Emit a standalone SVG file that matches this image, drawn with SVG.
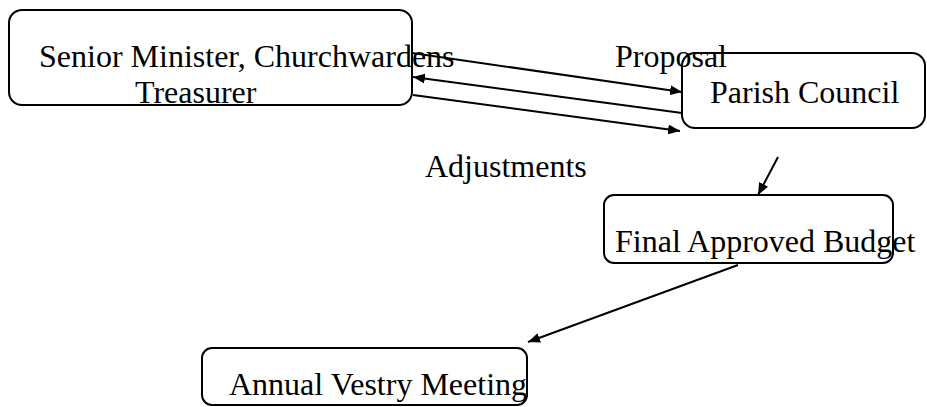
<svg xmlns="http://www.w3.org/2000/svg" width="927" height="407" viewBox="0 0 927 407">
<style>
.box{fill:none;stroke:#000;stroke-width:2}
.t{font-family:"Liberation Serif","Times New Roman",serif;font-size:32px;fill:#000}
.c{stroke:#000;stroke-width:2;fill:none}
</style>
<defs>
<marker id="ah" viewBox="0 0 10 10" refX="10" refY="5" markerWidth="6" markerHeight="5" orient="auto" markerUnits="strokeWidth" preserveAspectRatio="none">
<path d="M0,0 L10,5 L0,10 z" fill="#000"/>
</marker>
</defs>
<rect width="927" height="407" fill="#fff"/>
<g id="connectors">
<line class="c" x1="412" y1="53" x2="682" y2="92" marker-end="url(#ah)"/>
<line class="c" x1="682" y1="113" x2="413" y2="77" marker-end="url(#ah)"/>
<line class="c" x1="413" y1="95" x2="680" y2="131" marker-end="url(#ah)"/>
<line class="c" x1="778" y1="157" x2="758" y2="195" marker-end="url(#ah)"/>
<line class="c" x1="738" y1="265" x2="528" y2="342" marker-end="url(#ah)"/>
</g>
<g id="senior">
<rect class="box" x="9" y="10" width="403" height="95" rx="13"/>
<text class="t" x="39" y="67">Senior Minister, Churchwardens</text>
<text class="t" x="135" y="103">Treasurer</text>
</g>
<g id="parish">
<rect class="box" x="682" y="53" width="243" height="75" rx="13"/>
<text class="t" x="710" y="103">Parish Council</text>
</g>
<g id="final">
<rect class="box" x="604" y="195" width="289" height="68" rx="10"/>
<text class="t" x="615" y="252">Final Approved Budget</text>
</g>
<g id="annual">
<rect class="box" x="202" y="348" width="325" height="57" rx="10"/>
<text class="t" x="229" y="395">Annual Vestry Meeting</text>
</g>
<g id="labels">
<text class="t" x="615" y="67">Proposal</text>
<text class="t" x="425" y="177">Adjustments</text>
</g>
</svg>
